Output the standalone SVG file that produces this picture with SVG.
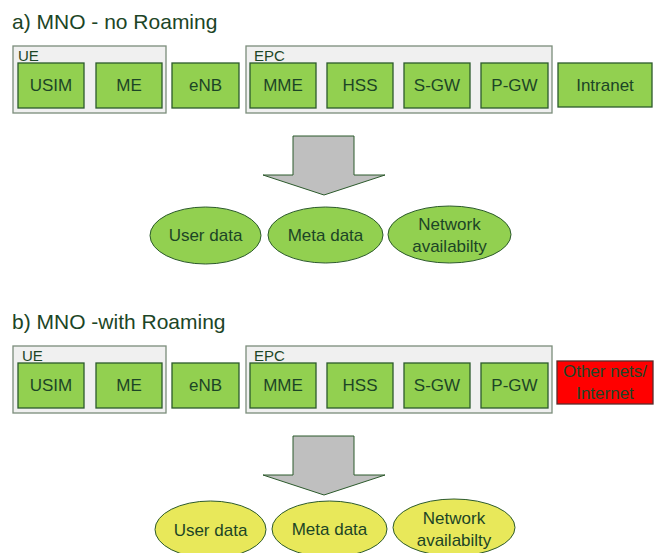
<svg xmlns="http://www.w3.org/2000/svg" width="657" height="553" viewBox="0 0 657 553">
<style>
text{font-family:"Liberation Sans",Arial,sans-serif;fill:#1C4526}
.title{font-size:21px}
.lbl{font-size:17px;text-anchor:middle}
.cl{font-size:15px}
.grp{fill:#F0F0F0;stroke:#7A8C7A;stroke-width:1.3}
.box{fill:#92D050;stroke:#2C5A2C;stroke-width:1.3}
.red{fill:#FF0000;stroke:#5A2A2A;stroke-width:1.3}
.arrow{fill:#BFBFBF;stroke:#2C5A2C;stroke-width:1}
.eg{fill:#92D050;stroke:#2C5A2C;stroke-width:1}
.ey{fill:#E8E85A;stroke:#2C5A2C;stroke-width:1}
</style>
<rect width="657" height="553" fill="#FFFFFF"/>

<!-- Section a -->
<text class="title" x="12" y="29">a) MNO - no Roaming</text>
<g id="a-ue"><rect class="grp" x="13" y="46" width="153" height="67"/><text class="cl" x="18" y="61">UE</text></g>
<g id="a-epc"><rect class="grp" x="246" y="46" width="306" height="67"/><text class="cl" x="254" y="61">EPC</text></g>
<g id="a-usim"><rect class="box" x="18" y="63" width="66" height="45"/><text class="lbl" x="51" y="91">USIM</text></g>
<g id="a-me"><rect class="box" x="96" y="63" width="66" height="45"/><text class="lbl" x="129" y="91">ME</text></g>
<g id="a-enb"><rect class="box" x="172" y="63" width="67" height="45"/><text class="lbl" x="205.5" y="91">eNB</text></g>
<g id="a-mme"><rect class="box" x="250" y="63" width="66" height="45"/><text class="lbl" x="283" y="91">MME</text></g>
<g id="a-hss"><rect class="box" x="327" y="63" width="66" height="45"/><text class="lbl" x="360" y="91">HSS</text></g>
<g id="a-sgw"><rect class="box" x="404" y="63" width="66" height="45"/><text class="lbl" x="437" y="91">S-GW</text></g>
<g id="a-pgw"><rect class="box" x="481" y="63" width="67" height="45"/><text class="lbl" x="514.5" y="91">P-GW</text></g>
<g id="a-intranet"><rect class="box" x="558" y="63" width="94" height="44"/><text class="lbl" x="605" y="91">Intranet</text></g>
<g id="connectors">
<polygon class="arrow" points="293,136 354,136 354,175 385,175 324,195 263,175 293,175"/>
<polygon class="arrow" points="293,436 354,436 354,475 385,475 324,495 263,475 293,475"/>
</g>
<g id="a-user"><ellipse class="eg" cx="205.5" cy="235.5" rx="55.5" ry="28.5"/><text class="lbl" x="205.5" y="241">User data</text></g>
<g id="a-meta"><ellipse class="eg" cx="325.5" cy="235" rx="57.5" ry="28"/><text class="lbl" x="325.5" y="241">Meta data</text></g>
<g id="a-net"><ellipse class="eg" cx="449.5" cy="234.5" rx="61.5" ry="28.5"/><text class="lbl" x="449.5" y="230">Network</text><text class="lbl" x="449.5" y="252">availabilty</text></g>

<!-- Section b -->
<text class="title" x="12" y="329">b) MNO -with Roaming</text>
<g id="b-ue"><rect class="grp" x="13" y="346" width="153" height="67"/><text class="cl" x="22" y="361">UE</text></g>
<g id="b-epc"><rect class="grp" x="246" y="346" width="306" height="67"/><text class="cl" x="254" y="361">EPC</text></g>
<g id="b-usim"><rect class="box" x="18" y="363" width="66" height="45"/><text class="lbl" x="51" y="391">USIM</text></g>
<g id="b-me"><rect class="box" x="96" y="363" width="66" height="45"/><text class="lbl" x="129" y="391">ME</text></g>
<g id="b-enb"><rect class="box" x="172" y="363" width="67" height="45"/><text class="lbl" x="205.5" y="391">eNB</text></g>
<g id="b-mme"><rect class="box" x="250" y="363" width="66" height="45"/><text class="lbl" x="283" y="391">MME</text></g>
<g id="b-hss"><rect class="box" x="327" y="363" width="66" height="45"/><text class="lbl" x="360" y="391">HSS</text></g>
<g id="b-sgw"><rect class="box" x="404" y="363" width="66" height="45"/><text class="lbl" x="437" y="391">S-GW</text></g>
<g id="b-pgw"><rect class="box" x="481" y="363" width="67" height="45"/><text class="lbl" x="514.5" y="391">P-GW</text></g>
<g id="b-other"><rect class="red" x="557" y="361" width="96" height="43"/><text class="lbl" x="605" y="377">Other nets/</text><text class="lbl" x="605" y="399">Internet</text></g>
<g id="b-user"><ellipse class="ey" cx="210.5" cy="529.5" rx="55.5" ry="28.5"/><text class="lbl" x="210.5" y="536">User data</text></g>
<g id="b-meta"><ellipse class="ey" cx="329.5" cy="529" rx="57.5" ry="28"/><text class="lbl" x="329.5" y="535">Meta data</text></g>
<g id="b-net"><ellipse class="ey" cx="454" cy="527.5" rx="61" ry="28.5"/><text class="lbl" x="454" y="524">Network</text><text class="lbl" x="454" y="546">availabilty</text></g>
</svg>
